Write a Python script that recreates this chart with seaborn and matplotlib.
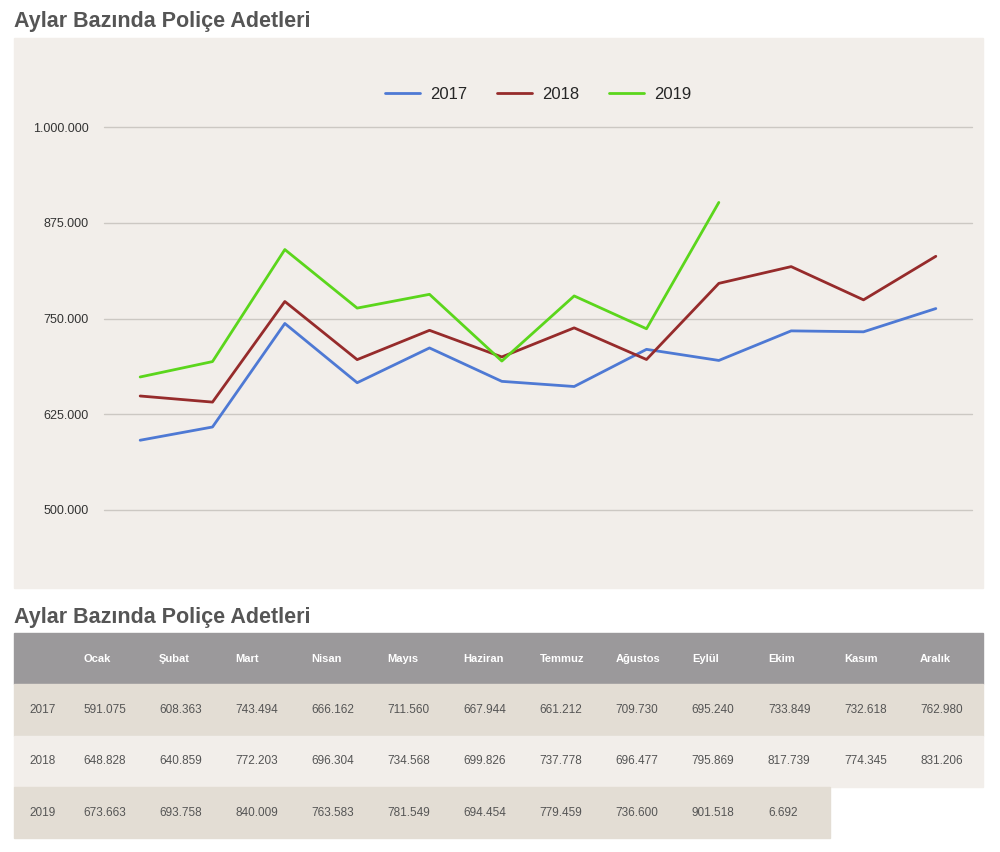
import pandas as pd
import seaborn as sns
import matplotlib.pyplot as plt
from matplotlib.patches import Rectangle

sns.set_style("white")
plt.rcParams["font.family"] = ["Liberation Sans", "DejaVu Sans"]

# data
months = ["Ocak", "Şubat", "Mart", "Nisan", "Mayıs", "Haziran",
          "Temmuz", "Ağustos", "Eylül", "Ekim", "Kasım", "Aralık"]
years = ["2017", "2018", "2019"]
values_2017 = [591075, 608363, 743494, 666162, 711560, 667944,
               661212, 709730, 695240, 733849, 732618, 762980]
values_2018 = [648828, 640859, 772203, 696304, 734568, 699826,
               737778, 696477, 795869, 817739, 774345, 831206]
values_2019 = [673663, 693758, 840009, 763583, 781549, 694454,
               779459, 736600, 901518, 6692]
# Ekim 2019 is a partial month, the chart only draws up to Eylül
plotted_2019 = values_2019[:9]
yticks = [500000, 625000, 750000, 875000, 1000000]
colors = {"2017": "#4e79d4", "2018": "#962b2b", "2019": "#5bd61c"}


def fmt(v):
    return f"{v:,}".replace(",", ".")


rows = []
for year, vals in zip(years, [values_2017, values_2018, plotted_2019]):
    for i, v in enumerate(vals):
        rows.append({"month": i, "value": v, "year": year})
df = pd.DataFrame(rows)

W, H = 1000, 852
fig = plt.figure(figsize=(W / 100, H / 100), dpi=100)


def fx(px):
    return px / W


def fy(py):
    return 1 - py / H


def box(x0, y0, x1, y1, color):
    # background rectangle in pixel coords, drawn behind the axes
    fig.patches.append(Rectangle((fx(x0), fy(y1)), fx(x1 - x0), (y1 - y0) / H,
                                 transform=fig.transFigure, color=color, zorder=-10))


title_color = "#555555"
panel = "#f2eeea"

# chart panel
box(14, 38, 983, 588, panel)
fig.text(fx(14), fy(21), "Aylar Bazında Poliçe Adetleri", fontsize=15.5,
         fontweight="bold", color=title_color, va="center", ha="left")

ax = fig.add_axes([fx(104), fy(510), fx(868), 383 / H])
ax.set_facecolor("none")
sns.lineplot(data=df, x="month", y="value", hue="year", palette=colors,
             linewidth=2, ax=ax)
ax.set_xlim(-0.5, 11.5)
ax.set_ylim(500000, 1000000)
ax.set_yticks(yticks)
ax.set_yticklabels([fmt(t) for t in yticks], fontsize=9, color="#333333")
ax.set_xticks([])
ax.set_xlabel("")
ax.set_ylabel("")
ax.grid(axis="y", color="#ccc8c3", linewidth=1)
for gl in ax.get_ygridlines():
    gl.set_clip_on(False)
ax.set_axisbelow(True)
ax.tick_params(axis="y", length=0, pad=11)
for s in ax.spines.values():
    s.set_visible(False)
leg = ax.legend(loc="center", bbox_to_anchor=(0.5, 1.084), ncol=3,
                frameon=False, fontsize=12, handlelength=2.1,
                handletextpad=0.6, columnspacing=1.8)
for line in leg.get_lines():
    line.set_linewidth(2)

# table under the chart
fig.text(fx(14), fy(617), "Aylar Bazında Poliçe Adetleri", fontsize=15.5,
         fontweight="bold", color=title_color, va="center", ha="left")

col_x0 = 83
col_step = 76.1
row_top = 633
row_h = 51.3
header_bg = "#9b999b"
row_bgs = ["#e3ddd4", "#f2eeea", "#e3ddd4"]

box(14, row_top, 983, row_top + row_h, header_bg)
for j, m in enumerate(months):
    fig.text(fx(col_x0 + j * col_step), fy(row_top + row_h / 2), m,
             fontsize=8, fontweight="bold", color="white", va="center", ha="left")

for r, (year, vals) in enumerate(zip(years, [values_2017, values_2018, values_2019])):
    top = row_top + row_h * (r + 1)
    right = 983 if len(vals) == 12 else col_x0 + len(vals) * col_step - 14
    box(14, top, right, top + row_h, row_bgs[r])
    fig.text(fx(29), fy(top + row_h / 2), year, fontsize=8.5,
             color=title_color, va="center", ha="left")
    for j, v in enumerate(vals):
        fig.text(fx(col_x0 + j * col_step), fy(top + row_h / 2), fmt(v),
                 fontsize=8.5, color=title_color, va="center", ha="left")

fig.savefig("out.png", dpi=100, facecolor="white")
